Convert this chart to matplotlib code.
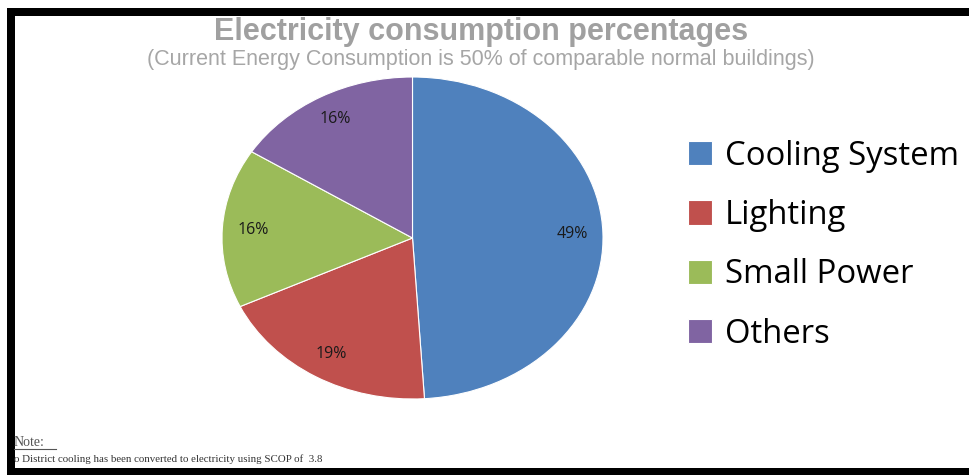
import matplotlib.pyplot as plt
from matplotlib.patches import Rectangle
from matplotlib.lines import Line2D

# Chart data
categories = ["Cooling System", "Lighting", "Small Power", "Others"]
shares = [49, 19, 16, 16]
colors = ["#4F81BD", "#C0504D", "#9BBB59", "#8064A2"]

title = "Electricity consumption percentages"
subtitle = "(Current Energy Consumption is 50% of comparable normal buildings)"
note_head = "Note:"
note_line = "o District cooling has been converted to electricity using SCOP of  3.8"

W, H = 969, 475
fig = plt.figure(figsize=(W / 100, H / 100), dpi=100)

# Black frame with white panel inside (kept behind the axes)
fig.patches.append(Rectangle((7 / W, 0), 1, (H - 8) / H, transform=fig.transFigure,
                             facecolor="black", edgecolor="none", zorder=-2))
fig.patches.append(Rectangle((15 / W, 7 / H), 1, (H - 16 - 7) / H, transform=fig.transFigure,
                             facecolor="white", edgecolor="none", zorder=-1))

# Pie (stretched horizontally like the original)
ax = fig.add_axes([222 / W, 76 / H, 381 / W, 322 / H])
ax.patch.set_alpha(0)
wedges, texts, autotexts = ax.pie(
    shares, colors=colors, startangle=90, counterclock=False,
    autopct=lambda p: f"{p:.0f}%", pctdistance=0.84,
    wedgeprops=dict(edgecolor="white", linewidth=0.8),
    textprops=dict(family="Open Sans", fontsize=11.5, color="#1a1a1a"))
ax.set_aspect("auto")
ax.set_xlim(-1, 1)
ax.set_ylim(-1, 1)

fig.legend(wedges, categories, loc="upper left", bbox_to_anchor=(658 / W, 1 - 110 / H),
           frameon=False, prop=dict(family="Open Sans", size=23.7),
           handlelength=0.75, handleheight=0.75, handletextpad=0.38, labelspacing=0.8)

# Titles
fig.text(481 / W, 1 - 32 / H, title, ha="center", va="center", color="#A0A0A0",
         family="Liberation Sans", weight="bold", fontsize=22)
fig.text(481 / W, 1 - 59 / H, subtitle, ha="center", va="center", color="#A6A6A6",
         family="Liberation Sans", fontsize=15.5)

# Note at the bottom
fig.text(14 / W, 1 - 442 / H, note_head, ha="left", va="center", color="#555555",
         family="Liberation Serif", fontsize=10)
fig.add_artist(Line2D([14 / W, 56 / W], [1 - 449 / H, 1 - 449 / H], color="#555555", lw=0.8))
fig.text(14 / W, 1 - 459 / H, note_line, ha="left", va="center", color="#333333",
         family="Liberation Serif", fontsize=7.8)

fig.savefig("out.png", dpi=100)
